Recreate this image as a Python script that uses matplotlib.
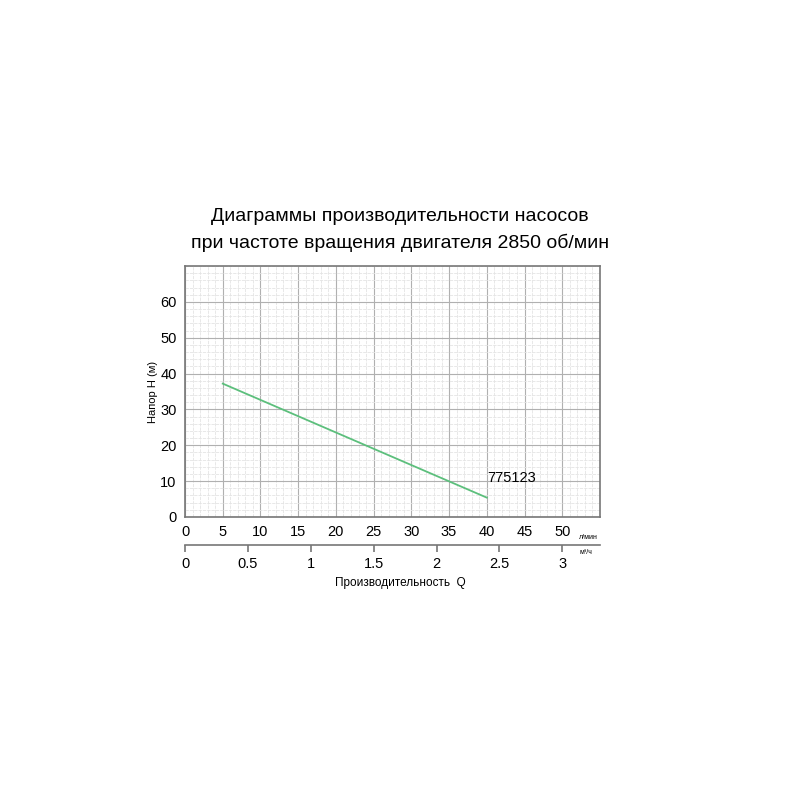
import matplotlib
matplotlib.use("Agg")
import matplotlib.pyplot as plt
from matplotlib.ticker import MultipleLocator

plt.rcParams["font.family"] = ["Liberation Sans", "DejaVu Sans"]

# данные кривой насоса
расход_лмин = [5, 40]
напор_м = [37.2, 5.4]
модель = "775123"

x_тики = [0, 5, 10, 15, 20, 25, 30, 35, 40, 45, 50]
y_тики = [0, 10, 20, 30, 40, 50, 60]
м3ч_тики = [0, 0.5, 1, 1.5, 2, 2.5, 3]
м3ч_подписи = ["0", "0.5", "1", "1.5", "2", "2.5", "3"]

fig = plt.figure(figsize=(8, 8), dpi=100)
ax = fig.add_axes([0.23125, 0.35375, 0.51875, 0.31375])

ax.set_xlim(0, 55)
ax.set_ylim(0, 70)
ax.set_xticks(x_тики)
ax.set_yticks(y_тики)
ax.xaxis.set_minor_locator(MultipleLocator(1))
ax.yaxis.set_minor_locator(MultipleLocator(2))
ax.grid(which="major", color="#b0b0b0", linewidth=0.8)
ax.grid(which="minor", color="#e4e4e4", linewidth=0.6, linestyle=(0, (4, 1.2)))
ax.set_axisbelow(True)
ax.tick_params(which="both", length=0, labelsize=10.5, pad=6)
for s in ax.spines.values():
    s.set_color("#777777")
    s.set_linewidth(1.2)

ax.plot(расход_лмин, напор_м, color="#5cbf7c", linewidth=1.3)
ax.text(40, 10.8, модель, fontsize=10.5, ha="left", va="center")

ax.set_ylabel("Напор Н (м)", fontsize=8, labelpad=2)

# вторая шкала в м³/ч
ax2 = fig.add_axes([0.23125, 0.31875, 0.51875, 0.0001])
ax2.set_xlim(0, 55 * 60 / 1000)
ax2.set_xticks(м3ч_тики)
ax2.set_xticklabels(м3ч_подписи)
ax2.set_yticks([])
for k in ["top", "left", "right"]:
    ax2.spines[k].set_visible(False)
ax2.spines["bottom"].set_color("#777777")
ax2.spines["bottom"].set_linewidth(1.2)
ax2.tick_params(axis="x", direction="out", length=5, width=1.2, color="#777777",
                labelsize=10.5, pad=4)

fig.text(0.724, 0.328, "л/мин", fontsize=5, ha="left", va="center")
fig.text(0.724, 0.309, "м³/ч", fontsize=5, ha="left", va="center")
fig.text(0.5, 0.271, "Производительность  Q", fontsize=8.5, ha="center", va="center")

fig.text(0.5, 0.713, "Диаграммы производительности насосов\nпри частоте вращения двигателя 2850 об/мин",
         fontsize=14, ha="center", va="center", linespacing=1.6)

fig.savefig("out.png", dpi=100)
